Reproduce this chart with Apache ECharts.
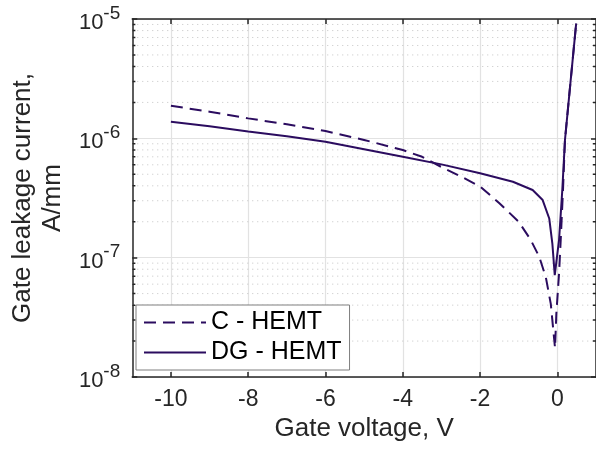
<!DOCTYPE html>
<html>
<head>
<meta charset="utf-8">
<script src="https://cdn.jsdelivr.net/npm/echarts@6/dist/echarts.min.js"></script>
<style>
  html, body { margin: 0; padding: 0; background: #fff; }
  #chart { width: 596px; height: 450px; }
</style>
</head>
<body>
<div id="chart"></div>
<script>
// C - HEMT (dashed)
const vC = [-10, -9, -8, -7, -6, -5, -4, -3.5, -3, -2.5, -2, -1.5, -1, -0.7, -0.47, -0.3, -0.17, -0.09, -0.06, -0.026, 0.044, 0.087, 0.146, 0.197, 0.34, 0.487]
const iC = [1.875e-6, 1.67e-6, 1.47e-6, 1.31e-6, 1.15e-6, 9.7e-7, 7.98e-7, 7.0e-7, 5.75e-7, 4.8e-7, 3.95e-7, 2.86e-7, 2.0e-7, 1.43e-7, 1.02e-7, 6.9e-8, 4.1e-8, 2.2e-8, 1.75e-8, 3.4e-8, 7.4e-8, 1.41e-7, 3.7e-7, 9.7e-7, 2.95e-6, 9.2e-6]

// DG - HEMT (solid)
const vDG = [-10, -9, -8, -7, -6, -5, -4, -3, -2, -1.15, -0.64, -0.38, -0.21, -0.13, -0.067, 0.044, 0.128, 0.197, 0.34, 0.487]
const iDG = [1.38e-6, 1.26e-6, 1.14e-6, 1.04e-6, 9.37e-7, 8.1e-7, 7.01e-7, 6.05e-7, 5.1e-7, 4.33e-7, 3.69e-7, 3.04e-7, 2.13e-7, 1.32e-7, 7.15e-8, 1.41e-7, 3.69e-7, 9.68e-7, 2.95e-6, 9.2e-6]

const xTicks = [-10, -8, -6, -4, -2, 0]
const yDecades = [1e-8, 1e-7, 1e-6]
const yMinorSteps = [2, 3, 4, 5, 6, 7, 8, 9]

const xMin = -11
const xMax = 1
const minorTickLen = 0.08 // in x units, ~3px

const lineColor = '#2b0c5f'
const textColor = '#262626'
const font = "'Liberation Sans', Arial, Helvetica, sans-serif"

const yMinor = []
yDecades.forEach(d => yMinorSteps.forEach(m => yMinor.push(m * d)))

const chart = echarts.init(document.getElementById('chart'))

const axisLineStyle = { color: textColor, width: 1.5 }

// dotted minor grid lines + minor ticks on both sides, as plain line series
const minorSeries = []
yMinor.forEach(v => {
  minorSeries.push({
    type: 'line', silent: true, symbol: 'none', z: 1,
    data: [[xMin, v], [xMax, v]],
    lineStyle: { color: '#c4c4c4', width: 1, type: [1, 4] }
  })
  minorSeries.push({
    type: 'line', silent: true, symbol: 'none', z: 6,
    data: [[xMin, v], [xMin + minorTickLen, v]],
    lineStyle: { color: textColor, width: 1.5 }
  })
  minorSeries.push({
    type: 'line', silent: true, symbol: 'none', z: 6,
    data: [[xMax - minorTickLen, v], [xMax, v]],
    lineStyle: { color: textColor, width: 1.5 }
  })
})

const option = {
  animation: false,
  backgroundColor: '#fff',
  textStyle: { fontFamily: font },
  grid: { left: 130, top: 19, width: 467, height: 358 },
  legend: {
    data: ['C - HEMT', 'DG - HEMT'],
    orient: 'vertical',
    left: 136,
    top: 305,
    padding: [5, 8, 5, 7],
    itemGap: 5,
    itemWidth: 62,
    itemHeight: 14,
    borderColor: '#7f7f7f',
    borderWidth: 1,
    borderRadius: 0,
    backgroundColor: '#fff',
    itemStyle: { opacity: 0 },
    textStyle: { fontSize: 25, color: '#000', fontFamily: font }
  },
  xAxis: [
    {
      type: 'value',
      min: xMin,
      max: xMax,
      position: 'bottom',
      name: 'Gate voltage, V',
      nameLocation: 'middle',
      nameGap: 29,
      nameTextStyle: { fontSize: 26, color: textColor, fontFamily: font },
      axisLine: { show: true, onZero: false, lineStyle: axisLineStyle },
      axisTick: { show: true, inside: true, length: 5, customValues: xTicks, lineStyle: axisLineStyle },
      axisLabel: { customValues: xTicks, fontSize: 23, color: textColor, margin: 11, fontFamily: font },
      splitLine: { show: true, lineStyle: { color: '#e2e2e2', width: 1.2 } }
    },
    {
      type: 'value',
      min: xMin,
      max: xMax,
      position: 'top',
      axisLine: { show: true, onZero: false, lineStyle: axisLineStyle },
      axisTick: { show: true, inside: true, length: 5, customValues: xTicks, lineStyle: axisLineStyle },
      axisLabel: { show: false },
      splitLine: { show: false }
    }
  ],
  yAxis: [
    {
      type: 'log',
      logBase: 10,
      min: 1e-8,
      max: 1e-5,
      position: 'left',
      name: 'Gate leakage current,\nA/mm',
      nameLocation: 'middle',
      nameRotate: 90,
      nameGap: 62,
      nameTextStyle: { fontSize: 26, lineHeight: 30, color: textColor, fontFamily: font },
      axisLine: { show: true, onZero: false, lineStyle: axisLineStyle },
      axisTick: { show: true, inside: true, length: 5, lineStyle: axisLineStyle },
      minorTick: { show: false },
      axisLabel: {
        margin: 12,
        padding: [6, 0, 0, 0],
        color: textColor,
        formatter: v => '{b|10}{s|' + Math.round(Math.log10(v)) + '}',
        rich: {
          b: { fontSize: 22, color: textColor, fontFamily: font, verticalAlign: 'bottom', lineHeight: 24 },
          s: { fontSize: 19, color: textColor, fontFamily: font, verticalAlign: 'bottom', lineHeight: 19, padding: [0, 0, 11, 0] }
        }
      },
      splitLine: { show: true, lineStyle: { color: '#e2e2e2', width: 1.2 } }
    },
    {
      type: 'log',
      logBase: 10,
      min: 1e-8,
      max: 1e-5,
      position: 'right',
      axisLine: { show: true, onZero: false, lineStyle: axisLineStyle },
      axisTick: { show: true, inside: true, length: 5, lineStyle: axisLineStyle },
      axisLabel: { show: false },
      splitLine: { show: false }
    }
  ],
  series: [
    {
      name: 'C - HEMT',
      type: 'line',
      data: vC.map((v, i) => [v, iC[i]]),
      showSymbol: false,
      symbol: 'none',
      z: 5,
      lineStyle: { color: lineColor, width: 2, type: [12, 7] },
      itemStyle: { color: lineColor }
    },
    {
      name: 'DG - HEMT',
      type: 'line',
      data: vDG.map((v, i) => [v, iDG[i]]),
      showSymbol: false,
      symbol: 'none',
      z: 5,
      lineStyle: { color: lineColor, width: 2 },
      itemStyle: { color: lineColor }
    }
  ].concat(minorSeries)
}

chart.setOption(option)
</script>
</body>
</html>
